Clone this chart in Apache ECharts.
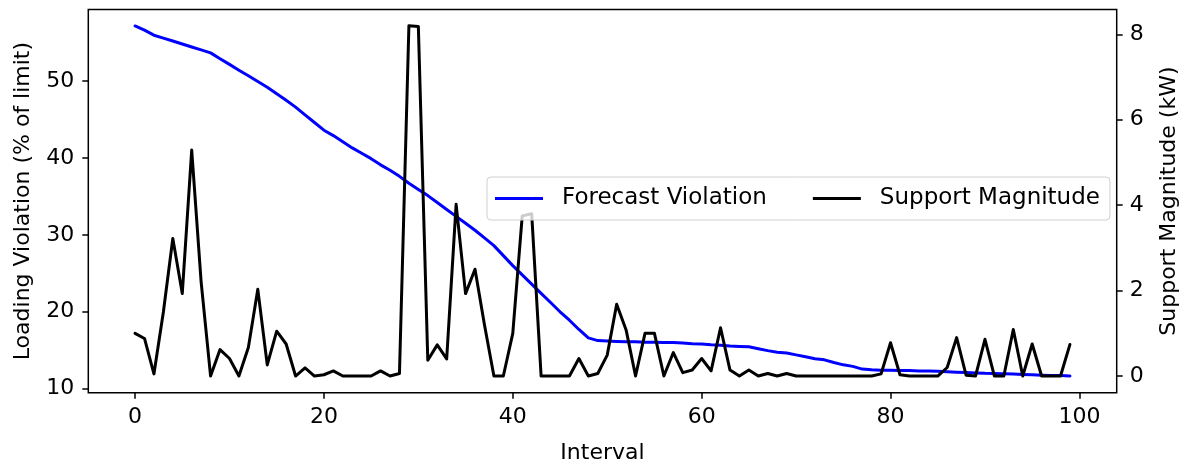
<!DOCTYPE html>
<html><head><meta charset="utf-8">
<script src="https://cdn.jsdelivr.net/npm/echarts@6/dist/echarts.min.js"></script>
<style>html,body{margin:0;padding:0;background:#fff}#c{width:1184px;height:466px}</style>
</head><body><div id="c"></div>
<script>
const intervals = Array.from({length: 100}, (_, i) => i);
const forecastViolation = [
  57.15, 56.6, 55.95, 55.57, 55.19, 54.8, 54.42, 54.04, 53.65, 52.9,
  52.16, 51.4, 50.67, 49.92, 49.18, 48.33, 47.48, 46.6, 45.6, 44.6,
  43.6, 42.9, 42.1, 41.3, 40.6, 39.9, 39.1, 38.4, 37.6, 36.7,
  35.9, 35.1, 34.2, 33.3, 32.4, 31.5, 30.6, 29.6, 28.6, 27.3,
  26.0, 24.8, 23.6, 22.4, 21.2, 20.0, 18.9, 17.7, 16.6, 16.25,
  16.2, 16.15, 16.1, 16.1, 16.05, 16.05, 16.0, 16.0, 15.95, 15.85,
  15.8, 15.7, 15.65, 15.55, 15.5, 15.45, 15.2, 14.95, 14.75, 14.65,
  14.4, 14.15, 13.9, 13.75, 13.4, 13.1, 12.9, 12.55, 12.45, 12.4,
  12.4, 12.35, 12.35, 12.3, 12.3, 12.27, 12.2, 12.15, 12.1, 12.05,
  12.0, 11.98, 11.95, 11.9, 11.85, 11.8, 11.75, 11.72, 11.7, 11.65
];
const supportMagnitude = [
  1.0, 0.88, 0.05, 1.5, 3.22, 1.93, 5.29, 2.2, 0, 0.62,
  0.41, 0, 0.67, 2.03, 0.26, 1.05, 0.75, 0, 0.19, 0,
  0.03, 0.12, 0, 0, 0, 0, 0.12, 0, 0.06, 8.2,
  8.18, 0.37, 0.73, 0.4, 4.02, 1.93, 2.5, 1.2, 0, 0,
  1.0, 3.75, 3.8, 0, 0, 0, 0, 0.41, 0, 0.06,
  0.49, 1.68, 1.08, 0, 1.0, 1.0, 0, 0.55, 0.08, 0.14,
  0.41, 0.12, 1.13, 0.14, 0, 0.14, 0, 0.06, 0, 0.06,
  0, 0, 0, 0, 0, 0, 0, 0, 0, 0.05,
  0.78, 0.03, 0, 0, 0, 0, 0.2, 0.9, 0.02, 0,
  0.86, 0, 0, 1.09, 0, 0.75, 0, 0, 0, 0.74
];
const xTicks = [0, 20, 40, 60, 80, 100];
const leftTicks = [10, 20, 30, 40, 50];
const rightTicks = [0, 2, 4, 6, 8];

const FONT = 'DejaVu Sans';
const FS = 22;
const chart = echarts.init(document.getElementById('c'), null, {renderer: 'canvas'});
const tick = {show: true, length: 6, lineStyle: {color: '#000', width: 1.5}};
const hiddenLine = {show: false, onZero: false};
chart.setOption({
  animation: false,
  backgroundColor: '#fff',
  grid: {left: 88.3, right: 67.3, top: 9.5, bottom: 73.3, containLabel: false, outerBoundsMode: 'none',
         show: true, borderColor: '#000', borderWidth: 1.5, backgroundColor: 'transparent'},
  legend: {
    left: 487, top: 177,
    itemWidth: 48, itemHeight: 3, itemGap: 46,
    padding: [10, 10, 10, 8],
    backgroundColor: 'rgba(255,255,255,0.8)',
    borderColor: '#d0d0d0', borderWidth: 1, borderRadius: 4,
    textStyle: {fontFamily: FONT, fontSize: 23, color: '#000', padding: [0, 0, 0, 14]},
    data: [{name: 'Forecast Violation', icon: 'rect'}, {name: 'Support Magnitude', icon: 'rect'}]
  },
  xAxis: {
    type: 'value', min: -4.95, max: 103.95,
    name: 'Interval', nameLocation: 'middle', nameGap: 50,
    nameTextStyle: {fontFamily: FONT, fontSize: FS, color: '#000'},
    axisLine: hiddenLine,
    axisTick: Object.assign({customValues: xTicks}, tick),
    axisLabel: {customValues: xTicks, fontFamily: FONT, fontSize: FS, color: '#000', margin: 14},
    splitLine: {show: false}
  },
  yAxis: [{
    type: 'value', position: 'left', min: 9.48, max: 59.29,
    name: 'Loading Violation (% of limit)', nameLocation: 'middle', nameGap: 54, nameRotate: 90,
    nameTextStyle: {fontFamily: FONT, fontSize: FS, color: '#000'},
    axisLine: hiddenLine,
    axisTick: Object.assign({customValues: leftTicks}, tick),
    axisLabel: {customValues: leftTicks, fontFamily: FONT, fontSize: FS, color: '#000', margin: 14},
    splitLine: {show: false}
  }, {
    type: 'value', position: 'right', min: -0.39, max: 8.58,
    name: 'Support Magnitude (kW)', nameLocation: 'middle', nameGap: 42, nameRotate: 90,
    nameTextStyle: {fontFamily: FONT, fontSize: FS, color: '#000'},
    axisLine: hiddenLine,
    axisTick: Object.assign({customValues: rightTicks}, tick),
    axisLabel: {customValues: rightTicks, fontFamily: FONT, fontSize: FS, color: '#000', margin: 13},
    splitLine: {show: false}
  }],
  series: [{
    name: 'Forecast Violation', type: 'line', yAxisIndex: 0, symbol: 'none',
    color: '#0000ff',
    lineStyle: {color: '#0000ff', width: 3, join: 'round', cap: 'round'},
    data: intervals.map((x, i) => [x, forecastViolation[i]])
  }, {
    name: 'Support Magnitude', type: 'line', yAxisIndex: 1, symbol: 'none',
    color: '#000000',
    lineStyle: {color: '#000000', width: 3, join: 'round', cap: 'round'},
    data: intervals.map((x, i) => [x, supportMagnitude[i]])
  }]
});
</script>
</body></html>
